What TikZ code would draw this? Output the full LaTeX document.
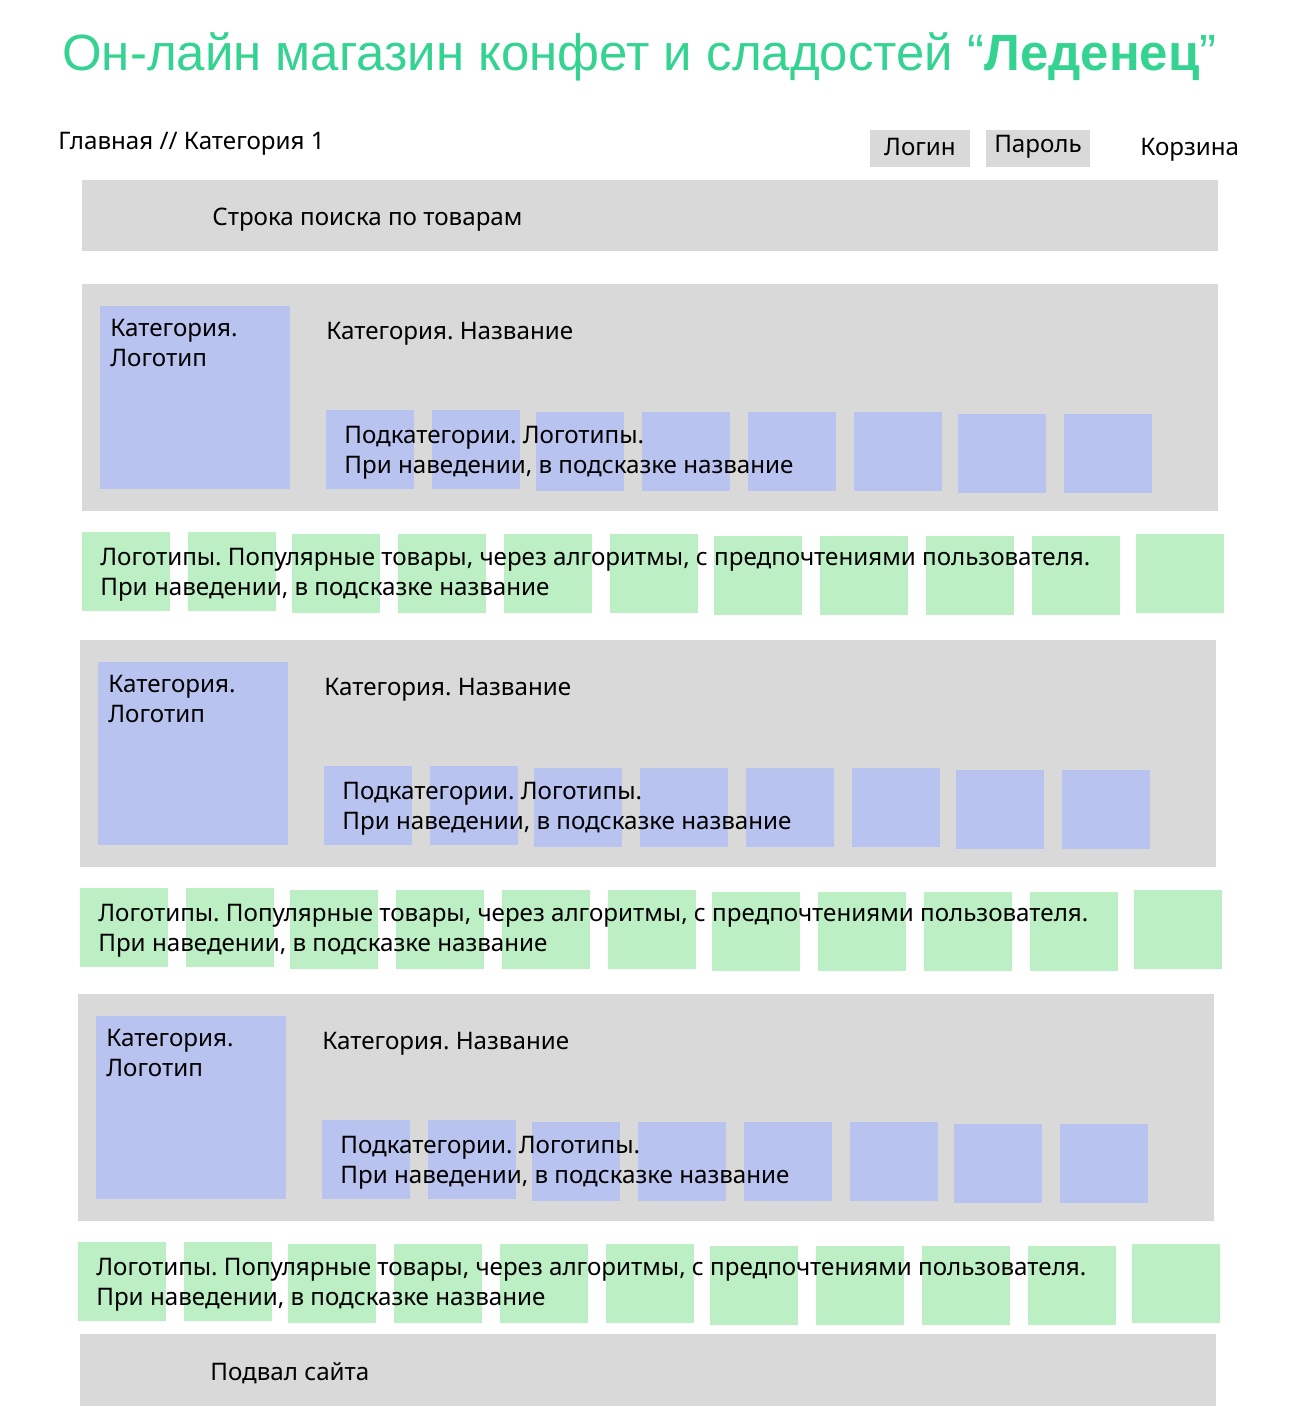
\documentclass[tikz,border=0pt]{standalone}
\usepackage{fontspec}
\setmainfont{Noto Sans}
\newfontfamily\titlefont{Liberation Sans}
\frenchspacing
\definecolor{candy}{RGB}{52,211,145}
\definecolor{pane}{RGB}{217,217,217}
\definecolor{logo}{RGB}{185,195,240}
\definecolor{pick}{RGB}{188,239,196}

\begin{document}
\begin{tikzpicture}[x=0.02cm,y=-0.02cm,
    lbl/.style={anchor=west,inner sep=0pt,align=left,
      font=\fontsize{13.75}{17}\selectfont},
    btn/.style={inner sep=0pt,font=\fontsize{13.75}{17}\selectfont}]
    \useasboundingbox (0,0) rectangle (1302,1422);

    % header
    \node[anchor=base west,inner sep=0pt,text=candy,
      font=\titlefont\fontsize{29}{34}\selectfont] (title) at (62,71)
      {Он-лайн магазин конфет и сладостей “\textbf{Леденец}”};
    \node[lbl] (crumbs) at (58,144) {Главная // Категория 1};
    \fill[pane] (870,130) rectangle (970,167);
    \node[btn] (login) at (920,147) {Логин};
    \fill[pane] (986,130) rectangle (1090,167);
    \node[btn] (passwd) at (1038,147) {Пароль};
    \node[lbl] (cart) at (1140,150) {Корзина};

    \fill[pane] (82,180) rectangle (1218,251);
    \node[lbl] (search) at (212,220) {Строка поиска по товарам};

    % category blocks + popular rows
    \foreach \dx/\dy/\k in {0/0/1, -2/356/2, -4/710/3} {
      \begin{scope}[shift={(\dx,\dy)}]
        \fill[pane] (82,284) rectangle (1218,511);
        \fill[logo] (100,306) rectangle (290,489);
        \foreach \x/\y in {326/410, 432/410, 536/412, 642/412,
                           748/412, 854/412, 958/414, 1064/414}
          \fill[logo] (\x,\y) rectangle ++(88,79);
        \node[lbl] (catlogo\k) at (110,343) {Категория.\\Логотип};
        \node[lbl] (catname\k) at (326,334) {Категория. Название};
        \node[lbl] (subcat\k) at (344,453)
          {Подкатегории. Логотипы.\\При наведении, в подсказке название};

        \foreach \x/\y in {82/532, 188/532, 292/534, 398/534, 504/534,
                           610/534, 714/536, 820/536, 926/536, 1032/536, 1136/534}
          \fill[pick] (\x,\y) rectangle ++(88,79);
        \node[lbl] (popular\k) at (100,575)
          {Логотипы. Популярные товары, через алгоритмы, с предпочтениями пользователя.\\При наведении, в подсказке название};
      \end{scope}
    }

    % footer
    \fill[pane] (80,1334) rectangle (1216,1406);
    \node[lbl] (footer) at (210,1373) {Подвал сайта};
\end{tikzpicture}
\end{document}
